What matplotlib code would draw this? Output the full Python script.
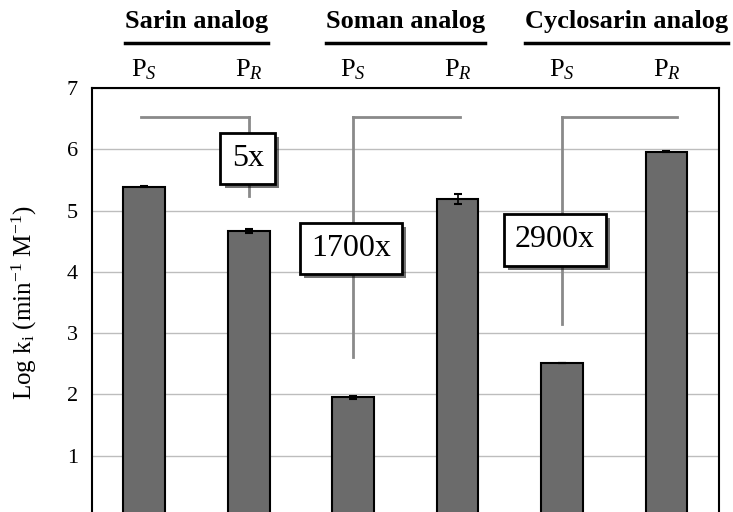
import numpy as np
import matplotlib
matplotlib.use("Agg")
import matplotlib.pyplot as plt
import matplotlib.patheffects as pe

plt.rcParams['font.family'] = ['Liberation Serif', 'DejaVu Serif']
plt.rcParams['mathtext.fontset'] = 'custom'
plt.rcParams['mathtext.rm'] = 'Liberation Serif'
plt.rcParams['mathtext.it'] = 'Liberation Serif:italic'

# data
groups = ['Sarin analog', 'Soman analog', 'Cyclosarin analog']
isomers = [r'$\mathrm{P}_{S}$', r'$\mathrm{P}_{R}$'] * 3
log_ki = [5.39, 4.67, 1.95, 5.19, 2.51, 5.96]
log_ki_err = [0.01, 0.03, 0.03, 0.085, 0.005, 0.01]
fold_labels = ['5x', '1700x', '2900x']

x = np.arange(len(log_ki))

fig = plt.figure(figsize=(7.33, 5.12), dpi=100)
ax = fig.add_axes([0.1255, -0.0098, 0.855, 0.838])

ax.bar(x, log_ki, width=0.4, color='#6b6b6b', edgecolor='black', linewidth=1.5,
       yerr=log_ki_err, capsize=3, error_kw=dict(ecolor='black', elinewidth=1.2, capthick=1.5),
       zorder=3)

ax.set_xlim(-0.5, 5.5)
ax.set_ylim(0, 7)
ax.set_yticks(range(1, 8))
ax.tick_params(axis='y', labelsize=16, length=0, pad=10)
ax.set_xticks([])
ax.grid(axis='y', color='#bdbdbd', linewidth=1, zorder=0)
for s in ax.spines.values():
    s.set_linewidth(1.5)
ax.set_ylabel(r'Log k$_{\mathrm{i}}$ (min$^{\mathrm{-1}}$ M$^{\mathrm{-1}}$)', fontsize=18, labelpad=20)

# fold-difference brackets
grey = '#8a8a8a'
brackets = [
    # (horizontal x0, horizontal x1, vertical x, vertical bottom, box x, box y)
    (-0.03, 1.0, 1.0, 5.24, 0.99, 5.85),
    (2.0, 3.02, 2.0, 2.61, 1.98, 4.38),
    (4.0, 5.1, 4.0, 3.15, 3.93, 4.52),
]
for (x0, x1, xv, ybot, bx, by), lab in zip(brackets, fold_labels):
    ax.plot([x0, x1], [6.52, 6.52], color=grey, lw=2, zorder=4)
    ax.plot([xv, xv], [6.52, ybot], color=grey, lw=2, zorder=4)
    t = ax.text(bx, by, lab, fontsize=23, ha='center', va='center', zorder=6,
                bbox=dict(boxstyle='square,pad=0.35', fc='white', ec='black', lw=2))
    t.get_bbox_patch().set_path_effects([pe.withSimplePatchShadow(offset=(3, -3), shadow_rgbFace='black', alpha=0.55)])

# isomer labels above the axes
for xi, lab in zip(x, isomers):
    ax.text(xi, 1.042, lab, transform=ax.get_xaxis_transform(), ha='center', va='center',
            fontsize=19, clip_on=False)

# group titles with underline
group_x = [0.5, 2.5, 4.62]
titles = []
for gx, g in zip(group_x, groups):
    titles.append(ax.text(gx, 1.154, g, transform=ax.get_xaxis_transform(), ha='center',
                          va='center', fontsize=19, fontweight='bold', clip_on=False))

fig.canvas.draw()
r = fig.canvas.get_renderer()
for t in titles:
    bb = t.get_window_extent(r)
    y = (512 - 43) / 512
    fig.add_artist(plt.Line2D([bb.x0 / 733, bb.x1 / 733], [y, y], color='black', lw=2.5))

fig.savefig('out.png', dpi=100)
